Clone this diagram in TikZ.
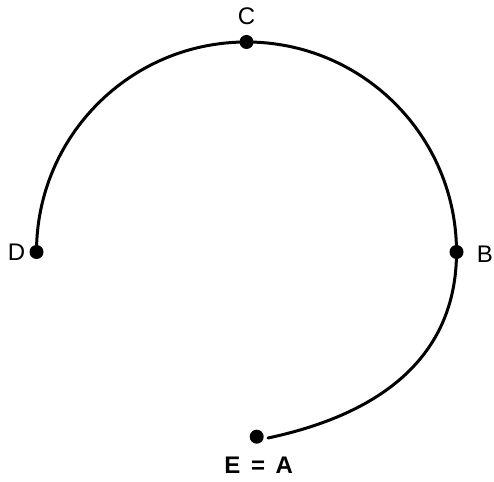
\documentclass[tikz,border=0pt]{standalone}
\usepackage{fontspec}
\setmainfont{Liberation Sans}
\usepackage{tikz}
\usetikzlibrary{arrows.meta}
\tikzset{
  every picture/.style={line join=round, line cap=round, >=Stealth},
  pt/.style={circle, fill=black, inner sep=0pt, minimum size=14pt},
  ptlabel/.style={font=\fontsize{24}{28}\selectfont, inner sep=0pt},
  curve/.style={line width=3pt},
}
\begin{document}
\begin{tikzpicture}[x=1pt,y=1pt]
\useasboundingbox (0,0) rectangle (494,481);
\node[pt,label={[ptlabel,label distance=4pt]left:D}] (D) at (36.5,229) {};
\node[pt,label={[ptlabel,label distance=10pt]above:C}] (C) at (246.5,439) {};
\node[pt,label={[ptlabel,label distance=13pt,yshift=-2pt]right:B}] (B) at (456.5,229) {};
\node[pt,label={[ptlabel,font=\fontsize{24}{28}\selectfont\bfseries,label distance=13pt,xshift=2pt]below:E\hspace{4pt} = \hspace{4pt}A}] (E) at (256.7,44.3) {};
\coordinate (Eend) at (268,43);
\draw[curve](D.center)arc[start angle=180,end angle=0,radius=210];
\draw[curve](B.center)..controls +(0,-105) and (380.5,66.9)..(Eend);
\end{tikzpicture}
\end{document}
